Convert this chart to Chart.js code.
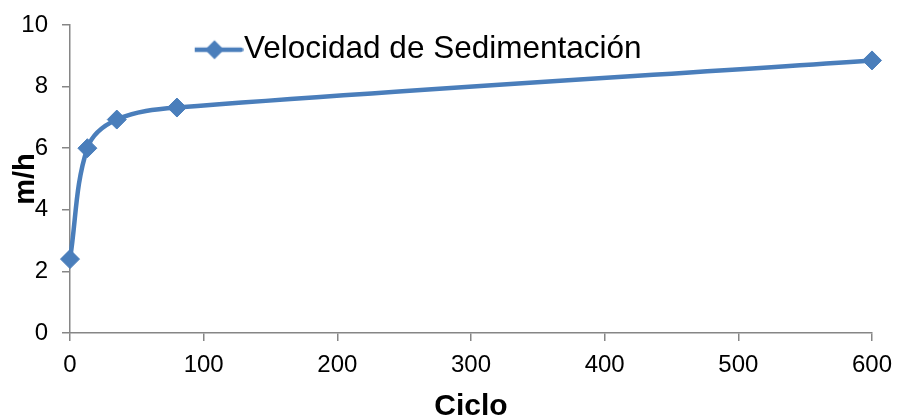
<!DOCTYPE html>
<html>
<head>
<meta charset="utf-8">
<script src="https://cdn.jsdelivr.net/npm/chart.js@4"></script>
<style>
  html, body { margin: 0; padding: 0; background: #fff; }
  canvas { display: block; }
</style>
</head>
<body>
<canvas id="grafico" width="897" height="417" style="width:897px;height:417px"></canvas>
<script>
// Datos de la serie
const ciclos = [0, 13, 35, 80, 600];
const velocidad = [2.4, 6.0, 6.93, 7.32, 8.85];
const serieNombre = 'Velocidad de Sedimentación';
const tituloX = 'Ciclo';
const tituloY = 'm/h';

const azul = '#4a7ebb';
const gris = '#868686';
const fuente = "'Liberation Sans', Arial, sans-serif";

// Marcador de la leyenda: tramo de línea con rombo al centro
function marcadorLeyenda() {
  const c = document.createElement('canvas');
  c.width = 58; c.height = 24;
  const g = c.getContext('2d');
  g.strokeStyle = azul; g.lineWidth = 4.5; g.lineCap = 'round';
  g.beginPath(); g.moveTo(2.5, 12); g.lineTo(55.5, 12); g.stroke();
  g.fillStyle = azul;
  g.beginPath();
  g.moveTo(29, 2.5); g.lineTo(38.5, 12); g.lineTo(29, 21.5); g.lineTo(19.5, 12);
  g.closePath(); g.fill();
  return c;
}
const marcador = marcadorLeyenda();

// Desplaza la leyenda dentro del área del gráfico
const desplazarLeyenda = {
  id: 'desplazarLeyenda',
  afterLayout(chart, args, opts) {
    const l = chart.legend;
    if (l) {
      l.left += opts.dx; l.right += opts.dx;
      l.top += opts.dy; l.bottom += opts.dy;
    }
  }
};

new Chart(document.getElementById('grafico'), {
  type: 'line',
  data: {
    datasets: [{
      label: serieNombre,
      data: ciclos.map((x, i) => ({ x, y: velocidad[i] })),
      borderColor: azul,
      backgroundColor: azul,
      borderWidth: 4.5,
      tension: 0.35,
      pointStyle: 'rectRot',
      pointRadius: 9.5,
      pointBorderWidth: 1,
      pointBackgroundColor: azul,
      pointBorderColor: azul,
      clip: false
    }]
  },
  options: {
    responsive: false,
    devicePixelRatio: 1,
    animation: false,
    layout: { autoPadding: false, padding: { top: 25, right: 25, left: 0, bottom: 0 } },
    plugins: {
      tooltip: { enabled: false },
      desplazarLeyenda: { dx: 124.75, dy: 28 },
      legend: {
        position: 'chartArea',
        align: 'start',
        labels: {
          usePointStyle: true,
          pointStyleWidth: 27.5,
          padding: 6,
          color: '#000',
          font: { family: fuente, size: 31.5 },
          generateLabels: (chart) => [{
            text: serieNombre,
            pointStyle: marcador,
            fillStyle: azul,
            strokeStyle: azul,
            lineWidth: 0,
            datasetIndex: 0
          }]
        }
      }
    },
    scales: {
      x: {
        type: 'linear',
        min: 0,
        max: 600,
        ticks: { stepSize: 100, color: '#000', font: { family: fuente, size: 24 }, padding: 10, maxRotation: 0 },
        grid: { drawOnChartArea: false, drawTicks: true, tickLength: 8, color: gris, lineWidth: 1.5 },
        border: { color: gris, width: 1.5 },
        title: {
          display: true, text: tituloX, color: '#000',
          font: { family: fuente, size: 30, weight: 'bold', lineHeight: 1 },
          padding: { top: 0, bottom: -5 }
        },
        afterFit: (s) => { s.height = 84; s.paddingLeft = 0; s.paddingRight = 0; }
      },
      y: {
        min: 0,
        max: 10,
        ticks: { stepSize: 2, color: '#000', font: { family: fuente, size: 24 }, padding: 14 },
        grid: { drawOnChartArea: false, drawTicks: true, tickLength: 8, color: gris, lineWidth: 1.5 },
        border: { color: gris, width: 1.5 },
        title: {
          display: true, text: tituloY, color: '#000',
          font: { family: fuente, size: 29, weight: 'bold', lineHeight: 1 },
          padding: { top: 11, bottom: 0 }
        },
        afterFit: (s) => { s.width = 70; s.paddingTop = 0; s.paddingBottom = 0; }
      }
    }
  },
  plugins: [desplazarLeyenda]
});
</script>
</body>
</html>
